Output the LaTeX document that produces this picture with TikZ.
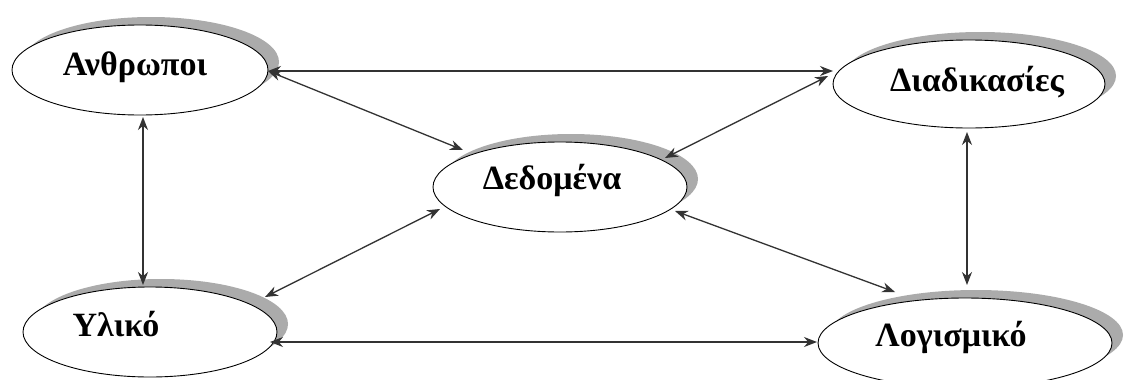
\documentclass[tikz,border=0pt]{standalone}
\usepackage{fontspec}
\setmainfont{Liberation Serif}
\usetikzlibrary{shapes.geometric,shadows,arrows.meta,calc}
\definecolor{shadowgray}{HTML}{ABABAB}
\begin{document}
\begin{tikzpicture}[x=1pt,y=-1pt,
  ent/.style={ellipse, draw=black, line width=0.9pt, fill=white, inner sep=0pt,
    general shadow={shadow xshift=11pt, shadow yshift=8pt, fill=shadowgray, draw=none}},
  lbl/.style={font=\bfseries\fontsize{34}{36}\selectfont, anchor=base, inner sep=0pt},
  link/.style={{Stealth[length=13pt,width=10pt]}-{Stealth[length=13pt,width=10pt]}, line width=1.3pt, draw=black!80}]
\useasboundingbox (0,0) rectangle (1124,380);
\fill[white] (0,0) rectangle (1124,380);
% ellipses
\node[ent, minimum width=256pt, minimum height=90pt] (anth) at (140,70) {};
\node[ent, minimum width=272pt, minimum height=88pt] (diad) at (969,84) {};
\node[ent, minimum width=254pt, minimum height=90pt] (dedo) at (560,187) {};
\node[ent, minimum width=254pt, minimum height=90pt] (ylik) at (150,332) {};
\node[ent, minimum width=294pt, minimum height=90pt] (logi) at (965,343) {};
% labels
\node[lbl] (anthT) at (135,75) {Ανθρωποι};
\node[lbl] (diadT) at (977,91) {Διαδικασίες};
\node[lbl] (dedoT) at (552,189) {Δεδομένα};
\node[lbl] (ylikT) at (116,336) {Υλικό};
\node[lbl] (logiT) at (951,346) {Λογισμικό};
% connectors
\draw[link] ([shift={(128,1)}]anth.center) -- ([shift={(-136,-13)}]diad.center);
\draw[link] ([shift={(128,1)}]anth.center) -- ([shift={(-97,-37)}]dedo.center);
\draw[link] ([shift={(-141,-8)}]diad.center) -- ([shift={(105,-29)}]dedo.center);
\draw[link] ([shift={(3,47)}]anth.center) -- ([shift={(-7,-47)}]ylik.center);
\draw[link] ([shift={(-2,48)}]diad.center) -- ([shift={(2,-58)}]logi.center);
\draw[link] ([shift={(-120,22)}]dedo.center) -- ([shift={(115,-35)}]ylik.center);
\draw[link] ([shift={(115,24)}]dedo.center) -- ([shift={(-70,-51)}]logi.center);
\draw[link] ([shift={(120,10)}]ylik.center) -- ([shift={(-148,-1)}]logi.center);
\end{tikzpicture}
\end{document}
